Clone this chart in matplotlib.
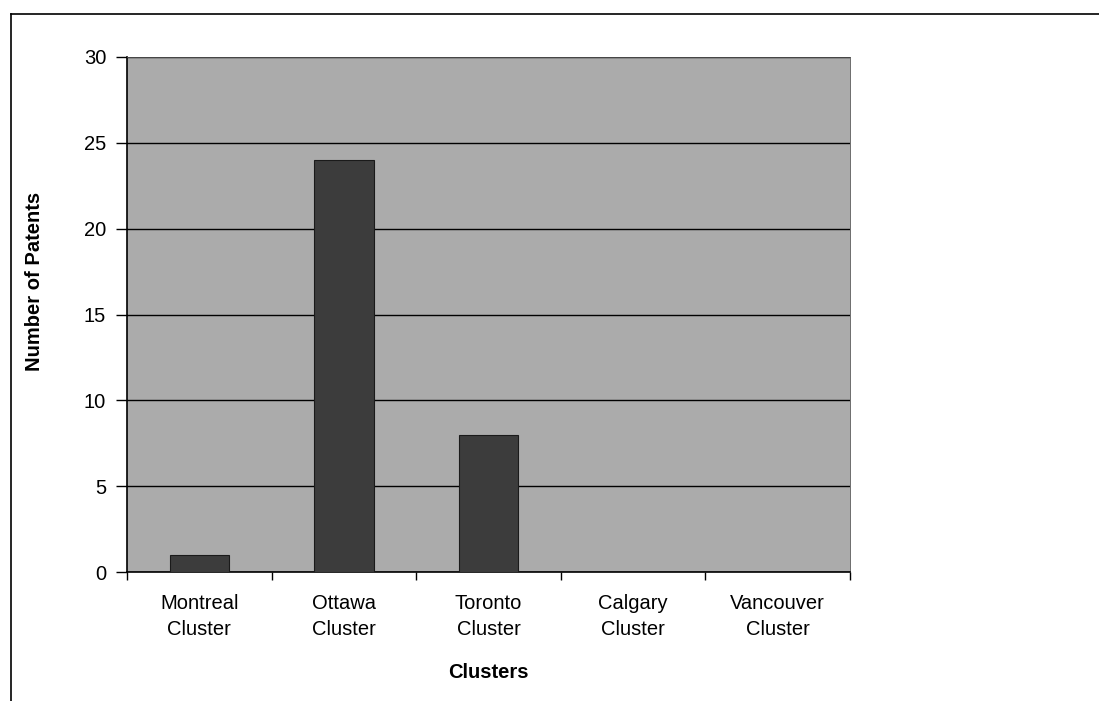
import matplotlib.pyplot as plt
from matplotlib.lines import Line2D

plt.rcParams['font.family'] = ['Liberation Sans', 'DejaVu Sans']

clusters = ["Montreal\nCluster", "Ottawa\nCluster", "Toronto\nCluster",
            "Calgary\nCluster", "Vancouver\nCluster"]
patents = [1, 24, 8, 0, 0]
yticks = [0, 5, 10, 15, 20, 25, 30]

fig = plt.figure(figsize=(10.99, 7.01), dpi=100)
ax = fig.add_axes([0.1156, 0.184, 0.6578, 0.7347])
ax.set_facecolor("#ababab")

x = range(len(clusters))
ax.bar(x, patents, width=0.41, color="#3c3c3c", edgecolor="#1a1a1a",
       linewidth=0.8, zorder=3)

ax.set_xlim(-0.5, len(clusters) - 0.5)
ax.set_ylim(0, 30)
ax.set_yticks(yticks)
ax.yaxis.grid(True, color="black", linewidth=1.0, zorder=1)
ax.set_axisbelow(True)

# category labels sit between tick marks placed at the boundaries
ax.set_xticks([i - 0.5 for i in range(len(clusters) + 1)])
ax.set_xticklabels([])
ax.set_xticks(list(x), minor=True)
ax.set_xticklabels(clusters, minor=True, fontsize=14.5, linespacing=1.45)
ax.tick_params(axis="x", which="minor", length=0, pad=16)
ax.tick_params(axis="x", which="major", length=6, width=1, direction="out")
ax.tick_params(axis="y", length=8, width=1, direction="out", labelsize=14.5, pad=7)

for side in ["top", "right"]:
    ax.spines[side].set_linewidth(0.6)
    ax.spines[side].set_color("#555555")
ax.spines["left"].set_linewidth(1.2)
ax.spines["bottom"].set_linewidth(1.2)

ax.set_ylabel("Number of Patents", fontsize=14.5, fontweight="bold")
ax.yaxis.set_label_coords(-0.115, 0.565)
ax.set_xlabel("Clusters", fontsize=14.5, fontweight="bold", labelpad=17)

# outer frame around the chart
fig.add_artist(Line2D([0.010, 1.0], [0.980, 0.980], color="black", linewidth=1.2))
fig.add_artist(Line2D([0.010, 0.010], [0.0, 0.980], color="black", linewidth=1.2))

fig.savefig("out.png", dpi=100)
